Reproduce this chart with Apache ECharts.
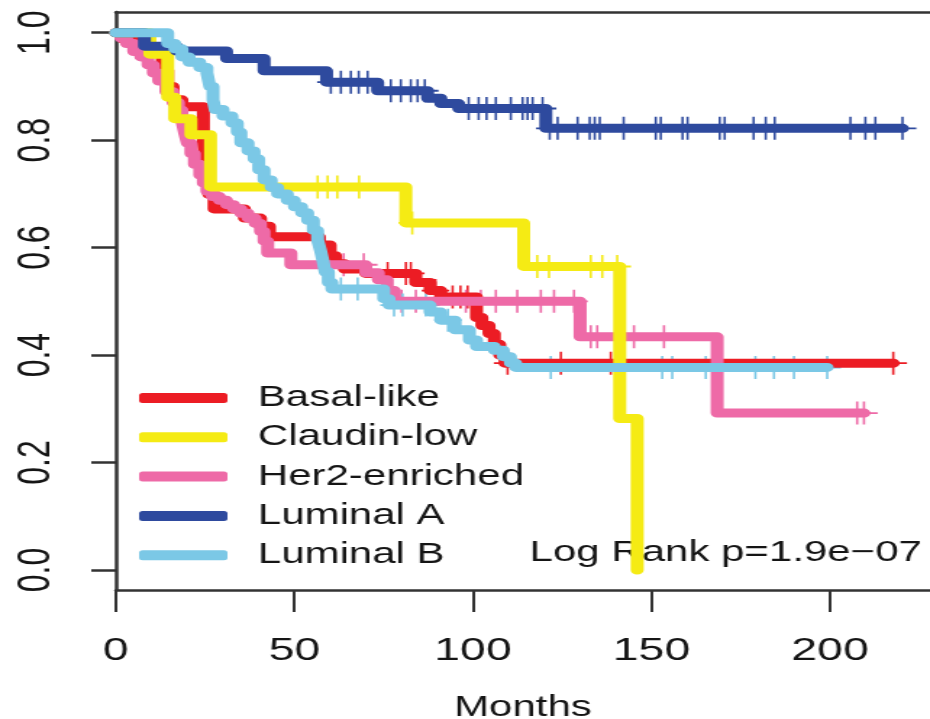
<!DOCTYPE html>
<html>
<head>
<meta charset="utf-8">
<script src="https://cdn.jsdelivr.net/npm/echarts@6/dist/echarts.min.js"></script>
<style>
html,body{margin:0;padding:0;overflow:hidden;background:#fff;width:930px;height:719px;}
/* the reference is a horizontally stretched R plot: draw narrower, stretch in x */
#chart{width:642px;height:719px;transform:scaleX(1.4486);transform-origin:0 0;}
</style>
</head>
<body>
<div id="chart"></div>
<script>
// ---------------- data ----------------
const groups = ['Basal-like', 'Claudin-low', 'Her2-enriched', 'Luminal A', 'Luminal B'];
const groupColors = ['#EC1C24', '#F5EB14', '#EE6AA7', '#2E4A9E', '#7BC8E6'];

const xTicks = [0, 50, 100, 150, 200];
const yTicks = [0, 0.2, 0.4, 0.6, 0.8, 1.0];
const xAxisTitle = 'Months';
const pValueText = 'Log Rank p=1.9e\u221207';

// Kaplan–Meier steps: [months, survival]
const basalSteps = [[0,1.0],[2,0.988],[5,0.978],[9,0.968],[13,0.93],[14.5,0.9],[16,0.875],[18.5,0.862],[24.5,0.80],[25.2,0.75],[26,0.70],[27.5,0.672],[36,0.655],[40.5,0.64],[43,0.62],[57,0.605],[60,0.585],[61.5,0.57],[64,0.56],[70,0.552],[84,0.535],[88,0.52],[91,0.508],[101,0.47],[102.5,0.455],[104.5,0.44],[106,0.42],[107.5,0.40],[109,0.385],[217.7,0.385]];
const basalCensor = [76.1, 81.2, 82.6, 89.5, 94.3, 96.5, 98.5, 109.7, 124.6, 138.6, 217.7];

const claudinSteps = [[0,1.0],[9.5,0.96],[14.5,0.88],[16.5,0.84],[21,0.81],[26.5,0.713],[81.2,0.646],[114.2,0.565],[141.1,0.282],[146,0.0]];
const claudinCensor = [56.5, 59.3, 62, 68.1, 83, 118, 121.3, 133, 136.2, 140.4];

const her2Steps = [[0,1.0],[1.4,0.99],[3,0.98],[5,0.965],[7,0.955],[9,0.94],[10.5,0.925],[12,0.91],[14,0.89],[16,0.87],[17.5,0.856],[18.5,0.835],[19.2,0.815],[20,0.795],[21,0.775],[22,0.755],[23.5,0.735],[24.5,0.72],[25.5,0.705],[27,0.695],[29,0.688],[31,0.68],[33,0.672],[35,0.664],[37,0.655],[39,0.645],[40.5,0.63],[41.5,0.612],[42.5,0.59],[49,0.568],[70,0.553],[73.5,0.54],[76,0.52],[78,0.5],[130,0.434],[168.4,0.292],[209.5,0.292]];
const her2Censor = [63.8, 69.4, 80, 84, 98, 102.2, 106.4, 112.4, 119, 122.7, 128.3, 133, 134.8, 145.1, 153.5, 207.6, 209.5];

const lumASteps = [[0,1.0],[8,0.975],[17,0.966],[31,0.952],[41.5,0.929],[59,0.908],[73.3,0.892],[87.3,0.878],[91,0.868],[96,0.859],[120.4,0.822],[220.3,0.822]];
const lumACensor = [60.2, 63, 65.8, 68, 70.5, 77, 79.8, 82.6, 84.5, 86.5, 98.8, 101.6, 103.8, 106.4, 110.6, 113.9, 115.3, 116.7, 119.5, 121.5, 123.7, 129.3, 132.7, 134.1, 135.5, 142.2, 151.2, 152.6, 158.7, 160.1, 169.1, 170.5, 178.6, 182, 184.5, 205.7, 209.9, 212.7, 220.3];

const lumBSteps = [[0,1.0],[14.5,0.98],[16.5,0.97],[18.5,0.955],[20.5,0.945],[23.5,0.935],[25.5,0.925],[26.3,0.9],[27.2,0.875],[27.8,0.857],[30,0.845],[32.5,0.832],[34,0.815],[35,0.795],[37,0.78],[38.7,0.765],[40,0.745],[41.5,0.726],[43.5,0.712],[45.3,0.7],[48,0.688],[50,0.676],[52,0.665],[53.7,0.651],[55.3,0.632],[56.5,0.614],[57.3,0.595],[58,0.575],[58.6,0.555],[59.5,0.535],[60.5,0.523],[75,0.505],[76.5,0.493],[88,0.48],[91,0.465],[95,0.447],[99,0.428],[101,0.416],[106,0.409],[108.5,0.397],[110.5,0.385],[112,0.377],[199.2,0.377]];
const lumBCensor = [63, 67.7, 77.9, 80.3, 86.8, 93, 121.8, 153, 155.8, 165.2, 167.5, 179.1, 184.3, 189.9, 199.2];

const stepsByGroup = [basalSteps, claudinSteps, her2Steps, lumASteps, lumBSteps];
const censorByGroup = [basalCensor, claudinCensor, her2Censor, lumACensor, lumBCensor];
const drawOrder = [0, 2, 1, 3, 4];

// ---------------- chart ----------------
const FONT = "'Liberation Sans', Arial, Helvetica, sans-serif";
const INK = '#151515';
const AXIS = '#333333';
const PLUS = 'path://M11,0L13,0L13,24L11,24ZM0,11L24,11L24,13L0,13Z';

function survivalAt(steps, t) {
  let v = steps[0][1];
  for (const p of steps) { if (p[0] <= t) v = p[1]; else break; }
  return v;
}

const series = [];
drawOrder.forEach(function (g) {
  series.push({
    name: groups[g], type: 'line', xAxisIndex: 2, yAxisIndex: 1,
    data: stepsByGroup[g], step: 'end', showSymbol: false, symbol: 'none',
    clip: false, silent: true,
    lineStyle: { color: groupColors[g], width: 9, cap: 'round', join: 'round' },
    itemStyle: { color: groupColors[g] }
  });
  series.push({
    name: groups[g] + ' censored', type: 'scatter', xAxisIndex: 2, yAxisIndex: 1,
    data: censorByGroup[g].map(function (t) { return [t, survivalAt(stepsByGroup[g], t)]; }),
    symbol: PLUS, symbolSize: [19, 23], clip: false, silent: true,
    itemStyle: { color: groupColors[g], opacity: 1 }
  });
});

const chart = echarts.init(document.getElementById('chart'), null, { renderer: 'canvas' });
chart.setOption({
  animation: false,
  backgroundColor: '#ffffff',
  grid: [
    { left: 80, right: 0, top: 12, bottom: 129, containLabel: false, outerBoundsMode: 'none' },
    { left: 80, right: 0, top: 32.7, bottom: 149, containLabel: false, outerBoundsMode: 'none' }
  ],
  xAxis: [
    {
      gridIndex: 0, type: 'value', position: 'bottom', min: 0, max: 228, interval: 50,
      axisLine: { show: true, onZero: false, lineStyle: { color: AXIS, width: 2.5 } },
      axisTick: { show: true, length: 22, customValues: xTicks, lineStyle: { color: AXIS, width: 2 } },
      axisLabel: { show: true, customValues: xTicks, margin: 45, fontSize: 32, fontFamily: FONT, color: INK },
      splitLine: { show: false },
      name: xAxisTitle, nameLocation: 'middle', nameGap: 103,
      nameTextStyle: { fontSize: 29, fontFamily: FONT, color: INK }
    },
    {
      gridIndex: 0, type: 'value', position: 'top', min: 0, max: 228, interval: 50,
      axisLine: { show: true, onZero: false, lineStyle: { color: AXIS, width: 2.5 } },
      axisTick: { show: false }, axisLabel: { show: false }, splitLine: { show: false }
    },
    {
      gridIndex: 1, type: 'value', min: 0, max: 228, interval: 50, show: false,
      splitLine: { show: false }
    }
  ],
  yAxis: [
    {
      gridIndex: 0, type: 'value', position: 'left', min: 0, max: 1,
      axisLine: { show: true, onZero: false, lineStyle: { color: AXIS, width: 2.5 } },
      axisTick: { show: false }, axisLabel: { show: false }, splitLine: { show: false }
    },
    {
      gridIndex: 1, type: 'value', position: 'left', min: 0, max: 1, interval: 0.2,
      axisLine: { show: false },
      axisTick: { show: true, length: 17, customValues: yTicks, lineStyle: { color: AXIS, width: 2.5 } },
      axisLabel: {
        show: true, customValues: yTicks, rotate: 90, margin: 39, fontSize: 32, fontFamily: FONT, color: INK,
        formatter: function (v) { return Number(v).toFixed(1); }
      },
      splitLine: { show: false }
    }
  ],
  legend: {
    data: groups, orient: 'vertical', left: 96, top: 383, padding: 0,
    itemWidth: 61, itemHeight: 10, itemGap: 9.3, icon: 'roundRect', selectedMode: false,
    itemStyle: { borderWidth: 0 },
    textStyle: { fontSize: 29, fontFamily: FONT, color: INK, lineHeight: 30, padding: [0, 0, 0, 16] }
  },
  graphic: [
    {
      type: 'text', x: 365.5, y: 553.4, silent: true,
      style: { text: pValueText, fontSize: 29, fontFamily: FONT, fill: INK, align: 'left', verticalAlign: 'middle' }
    }
  ],
  series: series
});
</script>
</body>
</html>
